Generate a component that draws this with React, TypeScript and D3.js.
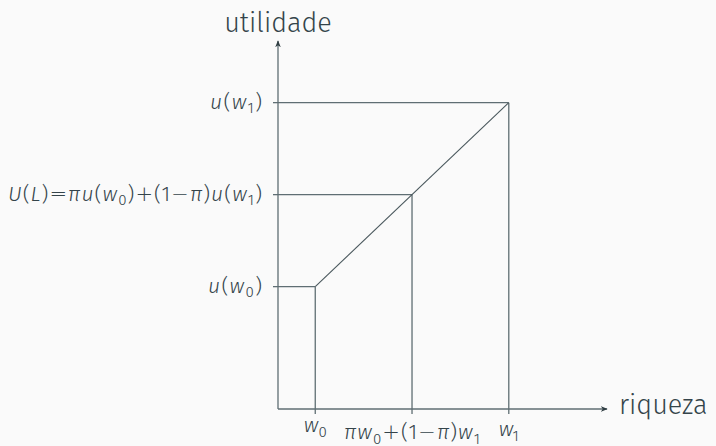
import React from "react";
import * as d3 from "d3";

// ---- data ----
const wealthTicks = [0.77, 2.77, 4.77]; // w0, πw0+(1−π)w1, w1
const utilityTicks = [1.33, 2.33, 3.33]; // u(w0), U(L), u(w1)
const lineW = [0.77, 4.77];
const lineU = [1.33, 3.33];
const xAxisTitle = "riqueza";
const yAxisTitle = "utilidade";

type Seg = { t: string; i?: boolean; sub?: boolean; op?: boolean };
const xTickLabels: Seg[][] = [
  [{ t: "w", i: true }, { t: "0", sub: true }],
  [
    { t: "π", i: true }, { t: "w", i: true }, { t: "0", sub: true },
    { t: "+", op: true }, { t: "(1" }, { t: "−", op: true }, { t: "π", i: true }, { t: ")" },
    { t: "w", i: true }, { t: "1", sub: true },
  ],
  [{ t: "w", i: true }, { t: "1", sub: true }],
];
const yTickLabels: Seg[][] = [
  [{ t: "u", i: true }, { t: "(" }, { t: "w", i: true }, { t: "0", sub: true }, { t: ")" }],
  [
    { t: "U", i: true }, { t: "(" }, { t: "L", i: true }, { t: ")" }, { t: "=", op: true },
    { t: "π", i: true }, { t: "u", i: true }, { t: "(" }, { t: "w", i: true }, { t: "0", sub: true },
    { t: ")" }, { t: "+", op: true }, { t: "(1" }, { t: "−", op: true }, { t: "π", i: true }, { t: ")" },
    { t: "u", i: true }, { t: "(" }, { t: "w", i: true }, { t: "1", sub: true }, { t: ")" },
  ],
  [{ t: "u", i: true }, { t: "(" }, { t: "w", i: true }, { t: "1", sub: true }, { t: ")" }],
];

const W = 716, H = 446;
const FONT = "'Fira Sans', 'Open Sans', 'Noto Sans', sans-serif";
const TEXT = "#34444a";
const LINE = "#5f6e73";

const x = d3.scaleLinear().domain([0, 6.8]).range([278, 607]);
const y = d3.scaleLinear().domain([0, 4]).range([409, 41]);

function Label({ segs, fs, ...rest }: { segs: Seg[]; fs: number; [k: string]: any }) {
  const out: React.ReactNode[] = [];
  let shifted = false;
  segs.forEach((s, k) => {
    let dy = 0;
    if (s.sub && !shifted) { dy = fs * 0.22; shifted = true; }
    else if (!s.sub && shifted) { dy = -fs * 0.22; shifted = false; }
    out.push(
      <tspan key={k} dy={dy || undefined} fontStyle={s.i ? "italic" : "normal"}
        fontFamily={s.op ? "'DejaVu Sans', sans-serif" : undefined}
        fontWeight={s.op ? 200 : undefined}
        fontSize={s.sub ? fs * 0.72 : s.op ? fs * 1.0 : fs}>{s.t}</tspan>
    );
  });
  return <text fontFamily={FONT} fontWeight={300} fill={TEXT} lengthAdjust="spacing" {...rest}>{out}</text>;
}

export default function App() {
  const line = d3.line<number>().x((_, k) => x(lineW[k])).y((d) => y(d));
  const x0 = x(0), y0 = y(0);
  const xBaselines = [432, 439, 436];
  const xWidths = [23, 136, 20];
  const yWidths = [54, 254, 52];
  return (
    <svg width={W} height={H} style={{ position: "absolute", left: 0, top: 0, background: "#fafafa" }}>
      <defs>
        <marker id="arr" viewBox="0 0 10 10" refX="9" refY="5" markerWidth="7" markerHeight="7"
          markerUnits="userSpaceOnUse" orient="auto">
          <path d="M0,1 L10,5 L0,9 L3,5 Z" fill="#2f3d42" />
        </marker>
      </defs>
      {/* guide lines */}
      {utilityTicks.map((u, k) => (
        <line key={"h" + k} x1={x0} x2={x(wealthTicks[k])} y1={y(u)} y2={y(u)} stroke={LINE} strokeWidth={1.3} />
      ))}
      {wealthTicks.map((w, k) => (
        <line key={"v" + k} x1={x(w)} x2={x(w)} y1={y(utilityTicks[k])} y2={y0} stroke={LINE} strokeWidth={1.3} />
      ))}
      {/* ticks */}
      {utilityTicks.map((u, k) => (
        <line key={"yt" + k} x1={x0 - 5} x2={x0} y1={y(u)} y2={y(u)} stroke={LINE} strokeWidth={1.3} />
      ))}
      {wealthTicks.map((w, k) => (
        <line key={"xt" + k} x1={x(w)} x2={x(w)} y1={y0} y2={y0 + 5} stroke={LINE} strokeWidth={1.3} />
      ))}
      {/* utility line */}
      <path d={line(lineU) || ""} fill="none" stroke="#4a585d" strokeWidth={1.1} />
      {/* axes */}
      <line x1={x0} x2={x0} y1={y0} y2={y(4)} stroke={LINE} strokeWidth={1.3} markerEnd="url(#arr)" />
      <line x1={x0} x2={x(6.8)} y1={y0} y2={y0} stroke={LINE} strokeWidth={1.3} markerEnd="url(#arr)" />
      {/* axis titles */}
      <text x={x0} y={32} textAnchor="middle" fontFamily={FONT} fontWeight={300} fontSize={27} fill={TEXT}>{yAxisTitle}</text>
      <text x={619} y={414} fontFamily={FONT} fontWeight={300} fontSize={27} fill={TEXT}>{xAxisTitle}</text>
      {/* tick labels */}
      {yTickLabels.map((segs, k) => (
        <Label key={"yl" + k} segs={segs} fs={21} x={262} y={y(utilityTicks[k]) + 6} textAnchor="end" textLength={yWidths[k]} />
      ))}
      {xTickLabels.map((segs, k) => (
        <Label key={"xl" + k} segs={segs} fs={21} x={x(wealthTicks[k])} y={xBaselines[k]} textAnchor="middle" textLength={xWidths[k]} />
      ))}
    </svg>
  );
}
